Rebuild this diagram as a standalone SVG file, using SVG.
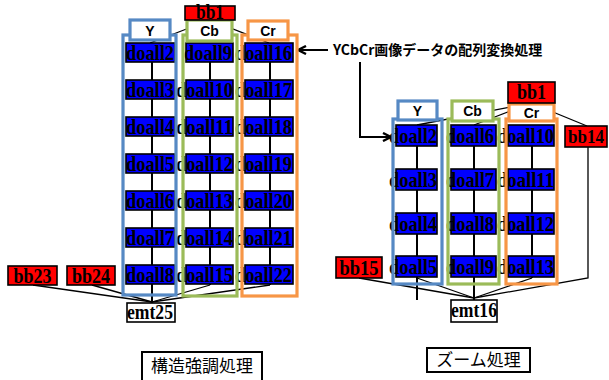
<svg xmlns="http://www.w3.org/2000/svg" width="609" height="380" viewBox="0 0 609 380">
<defs>
<style>
.nd{fill:#0000ff;stroke:#000;stroke-width:1.6}
.rd{fill:#ff0000;stroke:#000;stroke-width:1.6}
.wt{fill:#fff;stroke:#000;stroke-width:1.6}
.nt{font-family:"Liberation Serif",serif;font-weight:bold;font-size:21px;fill:#000}
.lb{font-family:"Liberation Sans",Arial,sans-serif;font-weight:bold;font-size:14px;fill:#000;text-anchor:middle}
.e{stroke:#000;stroke-width:1.3;fill:none}
.v{stroke:#000;stroke-width:2;fill:none}
.cy{fill:none;stroke:#5689c4;stroke-width:3.2}
.cg{fill:none;stroke:#9bbb59;stroke-width:3.2}
.co{fill:none;stroke:#f79646;stroke-width:3.2}
.ly{fill:#fff;stroke:#5689c4;stroke-width:3.2}
.lg{fill:#fff;stroke:#9bbb59;stroke-width:3.2}
.lo{fill:#fff;stroke:#f79646;stroke-width:3.2}
.jp{font-family:"Noto Sans CJK JP",sans-serif;font-size:17px;fill:#000;text-anchor:middle}
.ar{stroke:#000;stroke-width:2;fill:none}
</style>
<marker id="ah" viewBox="0 0 10 10" refX="9" refY="5" markerWidth="5" markerHeight="5" orient="auto">
<path d="M1,1 L9,5 L1,9" fill="none" stroke="#000" stroke-width="2.4"/>
</marker>
</defs>
<rect width="609" height="380" fill="#fff"/>

<g id="connectors">
<path class="v" d="M152,53 V303"/>
<path class="v" d="M210,53 V285"/>
<path class="v" d="M270,53 V285"/>
<path class="e" d="M210,20 L150,43"/>
<path class="e" d="M210,20 L269,43"/>
<path class="e" d="M33,285 L152,302"/>
<path class="e" d="M92,285 L152,302"/>
<path class="e" d="M210,285 L152,302"/>
<path class="e" d="M270,285 L152,302"/>
<path class="v" d="M417,135 V300"/>
<path class="v" d="M474,135 V300"/>
<path class="v" d="M532,135 V278"/>
<path class="e" d="M531,103 L417,125"/>
<path class="e" d="M531,103 L474,125"/>
<path class="e" d="M531,103 L587,126"/>
<path class="e" d="M359,278 L474,298"/>
<path class="e" d="M417,278 L474,298"/>
<path class="e" d="M532,278 L474,298"/>
<path class="e" d="M588,147 V278 L474,298"/>
<path class="ar" d="M328,50 H298" marker-end="url(#ah)"/>
<path class="ar" d="M360,62 V137 H391" marker-end="url(#ah)"/>
</g>

<g id="doall2"><rect class="nd" x="126" y="43" width="49" height="19"/><text class="nt" x="174" y="60" text-anchor="end" textLength="48" lengthAdjust="spacingAndGlyphs">doall2</text></g>
<g id="doall3"><rect class="nd" x="126" y="80" width="49" height="19"/><text class="nt" x="174" y="97" text-anchor="end" textLength="48" lengthAdjust="spacingAndGlyphs">doall3</text></g>
<g id="doall4"><rect class="nd" x="126" y="117" width="49" height="19"/><text class="nt" x="174" y="134" text-anchor="end" textLength="48" lengthAdjust="spacingAndGlyphs">doall4</text></g>
<g id="doall5"><rect class="nd" x="126" y="154" width="49" height="19"/><text class="nt" x="174" y="171" text-anchor="end" textLength="48" lengthAdjust="spacingAndGlyphs">doall5</text></g>
<g id="doall6"><rect class="nd" x="126" y="191" width="49" height="19"/><text class="nt" x="174" y="208" text-anchor="end" textLength="48" lengthAdjust="spacingAndGlyphs">doall6</text></g>
<g id="doall7"><rect class="nd" x="126" y="228" width="49" height="19"/><text class="nt" x="174" y="245" text-anchor="end" textLength="48" lengthAdjust="spacingAndGlyphs">doall7</text></g>
<g id="doall8"><rect class="nd" x="126" y="265" width="49" height="19"/><text class="nt" x="174" y="282" text-anchor="end" textLength="48" lengthAdjust="spacingAndGlyphs">doall8</text></g>

<g id="doall9"><rect class="nd" x="186" y="43" width="47" height="19"/><text class="nt" x="232" y="60" text-anchor="end" textLength="48" lengthAdjust="spacingAndGlyphs">doall9</text></g>
<g id="doall10"><rect class="nd" x="186" y="80" width="47" height="19"/><text class="nt" x="233" y="97" text-anchor="end" textLength="57" lengthAdjust="spacingAndGlyphs">doall10</text></g>
<g id="doall11"><rect class="nd" x="186" y="117" width="47" height="19"/><text class="nt" x="233" y="134" text-anchor="end" textLength="57" lengthAdjust="spacingAndGlyphs">doall11</text></g>
<g id="doall12"><rect class="nd" x="186" y="154" width="47" height="19"/><text class="nt" x="233" y="171" text-anchor="end" textLength="57" lengthAdjust="spacingAndGlyphs">doall12</text></g>
<g id="doall13"><rect class="nd" x="186" y="191" width="47" height="19"/><text class="nt" x="233" y="208" text-anchor="end" textLength="57" lengthAdjust="spacingAndGlyphs">doall13</text></g>
<g id="doall14"><rect class="nd" x="186" y="228" width="47" height="19"/><text class="nt" x="233" y="245" text-anchor="end" textLength="57" lengthAdjust="spacingAndGlyphs">doall14</text></g>
<g id="doall15"><rect class="nd" x="186" y="265" width="47" height="19"/><text class="nt" x="233" y="282" text-anchor="end" textLength="57" lengthAdjust="spacingAndGlyphs">doall15</text></g>

<g id="doall16"><rect class="nd" x="245" y="43" width="48" height="19"/><text class="nt" x="292" y="60" text-anchor="end" textLength="57" lengthAdjust="spacingAndGlyphs">doall16</text></g>
<g id="doall17"><rect class="nd" x="245" y="80" width="48" height="19"/><text class="nt" x="292" y="97" text-anchor="end" textLength="57" lengthAdjust="spacingAndGlyphs">doall17</text></g>
<g id="doall18"><rect class="nd" x="245" y="117" width="48" height="19"/><text class="nt" x="292" y="134" text-anchor="end" textLength="57" lengthAdjust="spacingAndGlyphs">doall18</text></g>
<g id="doall19"><rect class="nd" x="245" y="154" width="48" height="19"/><text class="nt" x="292" y="171" text-anchor="end" textLength="57" lengthAdjust="spacingAndGlyphs">doall19</text></g>
<g id="doall20"><rect class="nd" x="245" y="191" width="48" height="19"/><text class="nt" x="292" y="208" text-anchor="end" textLength="57" lengthAdjust="spacingAndGlyphs">doall20</text></g>
<g id="doall21"><rect class="nd" x="245" y="228" width="48" height="19"/><text class="nt" x="292" y="245" text-anchor="end" textLength="57" lengthAdjust="spacingAndGlyphs">doall21</text></g>
<g id="doall22"><rect class="nd" x="245" y="265" width="48" height="19"/><text class="nt" x="292" y="282" text-anchor="end" textLength="57" lengthAdjust="spacingAndGlyphs">doall22</text></g>

<g id="bb23"><rect class="rd" x="8" y="266" width="49" height="19"/><text class="nt" x="32.5" y="283" text-anchor="middle" textLength="38" lengthAdjust="spacingAndGlyphs">bb23</text></g>
<g id="bb24"><rect class="rd" x="67" y="266" width="48" height="19"/><text class="nt" x="91" y="283" text-anchor="middle" textLength="38" lengthAdjust="spacingAndGlyphs">bb24</text></g>
<g id="emt25"><rect class="wt" x="127" y="303" width="48" height="19"/><text class="nt" x="150" y="319" text-anchor="middle" textLength="46" lengthAdjust="spacingAndGlyphs">emt25</text></g>

<g id="col-left">
<rect class="cy" x="123" y="35" width="53" height="260"/>
<rect class="cg" x="183" y="35" width="54" height="261"/>
<rect class="co" x="242" y="35" width="55" height="261"/>
<rect class="ly" x="130" y="20" width="40" height="20"/><text class="lb" x="150" y="36">Y</text>
<rect class="lg" x="187" y="20" width="45" height="21"/><text class="lb" x="209.5" y="36">Cb</text>
<rect class="lo" x="248" y="21" width="40" height="19"/><text class="lb" x="268" y="36">Cr</text>
</g>
<g id="bb1-left"><rect class="rd" x="185" y="6" width="50" height="14"/><text class="nt" x="210" y="19" text-anchor="middle" textLength="28" lengthAdjust="spacingAndGlyphs">bb1</text></g>

<g id="r-doall2"><rect class="nd" x="396" y="125" width="41" height="21"/><text class="nt" x="437" y="143" text-anchor="end" textLength="48" lengthAdjust="spacingAndGlyphs">doall2</text></g>
<g id="r-doall3"><rect class="nd" x="396" y="169" width="41" height="21"/><text class="nt" x="437" y="187" text-anchor="end" textLength="48" lengthAdjust="spacingAndGlyphs">doall3</text></g>
<g id="r-doall4"><rect class="nd" x="396" y="213" width="41" height="21"/><text class="nt" x="437" y="231" text-anchor="end" textLength="48" lengthAdjust="spacingAndGlyphs">doall4</text></g>
<g id="r-doall5"><rect class="nd" x="396" y="256" width="41" height="21"/><text class="nt" x="437" y="274" text-anchor="end" textLength="48" lengthAdjust="spacingAndGlyphs">doall5</text></g>

<g id="r-doall6"><rect class="nd" x="451" y="125" width="45" height="21"/><text class="nt" x="494" y="143" text-anchor="end" textLength="48" lengthAdjust="spacingAndGlyphs">doall6</text></g>
<g id="r-doall7"><rect class="nd" x="451" y="169" width="45" height="21"/><text class="nt" x="494" y="187" text-anchor="end" textLength="48" lengthAdjust="spacingAndGlyphs">doall7</text></g>
<g id="r-doall8"><rect class="nd" x="451" y="213" width="45" height="21"/><text class="nt" x="494" y="231" text-anchor="end" textLength="48" lengthAdjust="spacingAndGlyphs">doall8</text></g>
<g id="r-doall9"><rect class="nd" x="451" y="256" width="45" height="21"/><text class="nt" x="494" y="274" text-anchor="end" textLength="48" lengthAdjust="spacingAndGlyphs">doall9</text></g>

<g id="r-doall10"><rect class="nd" x="508" y="125" width="46" height="21"/><text class="nt" x="554" y="143" text-anchor="end" textLength="57" lengthAdjust="spacingAndGlyphs">doall10</text></g>
<g id="r-doall11"><rect class="nd" x="508" y="169" width="46" height="21"/><text class="nt" x="554" y="187" text-anchor="end" textLength="57" lengthAdjust="spacingAndGlyphs">doall11</text></g>
<g id="r-doall12"><rect class="nd" x="508" y="213" width="46" height="21"/><text class="nt" x="554" y="231" text-anchor="end" textLength="57" lengthAdjust="spacingAndGlyphs">doall12</text></g>
<g id="r-doall13"><rect class="nd" x="508" y="256" width="46" height="21"/><text class="nt" x="554" y="274" text-anchor="end" textLength="57" lengthAdjust="spacingAndGlyphs">doall13</text></g>

<g id="bb14"><rect class="rd" x="565" y="126" width="42" height="21"/><text class="nt" x="586" y="143" text-anchor="middle" font-size="18" textLength="36" lengthAdjust="spacingAndGlyphs" style="font-size:18px">bb14</text></g>
<g id="bb15"><rect class="rd" x="336" y="257" width="46" height="21"/><text class="nt" x="359" y="275" text-anchor="middle" textLength="39" lengthAdjust="spacingAndGlyphs">bb15</text></g>
<g id="emt16"><rect class="wt" x="451" y="300" width="46" height="22"/><text class="nt" x="474" y="317" text-anchor="middle" textLength="46" lengthAdjust="spacingAndGlyphs">emt16</text></g>

<g id="col-right">
<rect class="cy" x="393" y="119" width="49" height="165"/>
<rect class="cg" x="448" y="119" width="51" height="165"/>
<rect class="co" x="506" y="119" width="51" height="165"/>
<rect class="ly" x="398" y="101" width="39" height="19"/><text class="lb" x="417.5" y="116">Y</text>
<rect class="lg" x="452" y="101" width="41" height="20"/><text class="lb" x="472.5" y="116">Cb</text>
<rect class="lo" x="509" y="104" width="45" height="17"/><text class="lb" x="531.5" y="118">Cr</text>
</g>
<g id="bb1-right"><rect class="rd" x="508" y="82" width="47" height="21"/><text class="nt" x="531.5" y="99" text-anchor="middle" textLength="29" lengthAdjust="spacingAndGlyphs">bb1</text></g>

<g id="caption">
<text x="333" y="55" font-family="'Noto Sans CJK JP',sans-serif" font-weight="bold" font-size="14px" fill="#000">YCbCr画像データの配列変換処理</text>
</g>
<g id="label-left"><rect x="142" y="352" width="120" height="30" fill="#fff" stroke="#000" stroke-width="2"/><text class="jp" x="202" y="372">構造強調処理</text></g>
<g id="label-right"><rect x="427" y="348" width="103" height="24" fill="#fff" stroke="#000" stroke-width="2"/><text class="jp" x="478.5" y="366">ズーム処理</text></g>
</svg>
